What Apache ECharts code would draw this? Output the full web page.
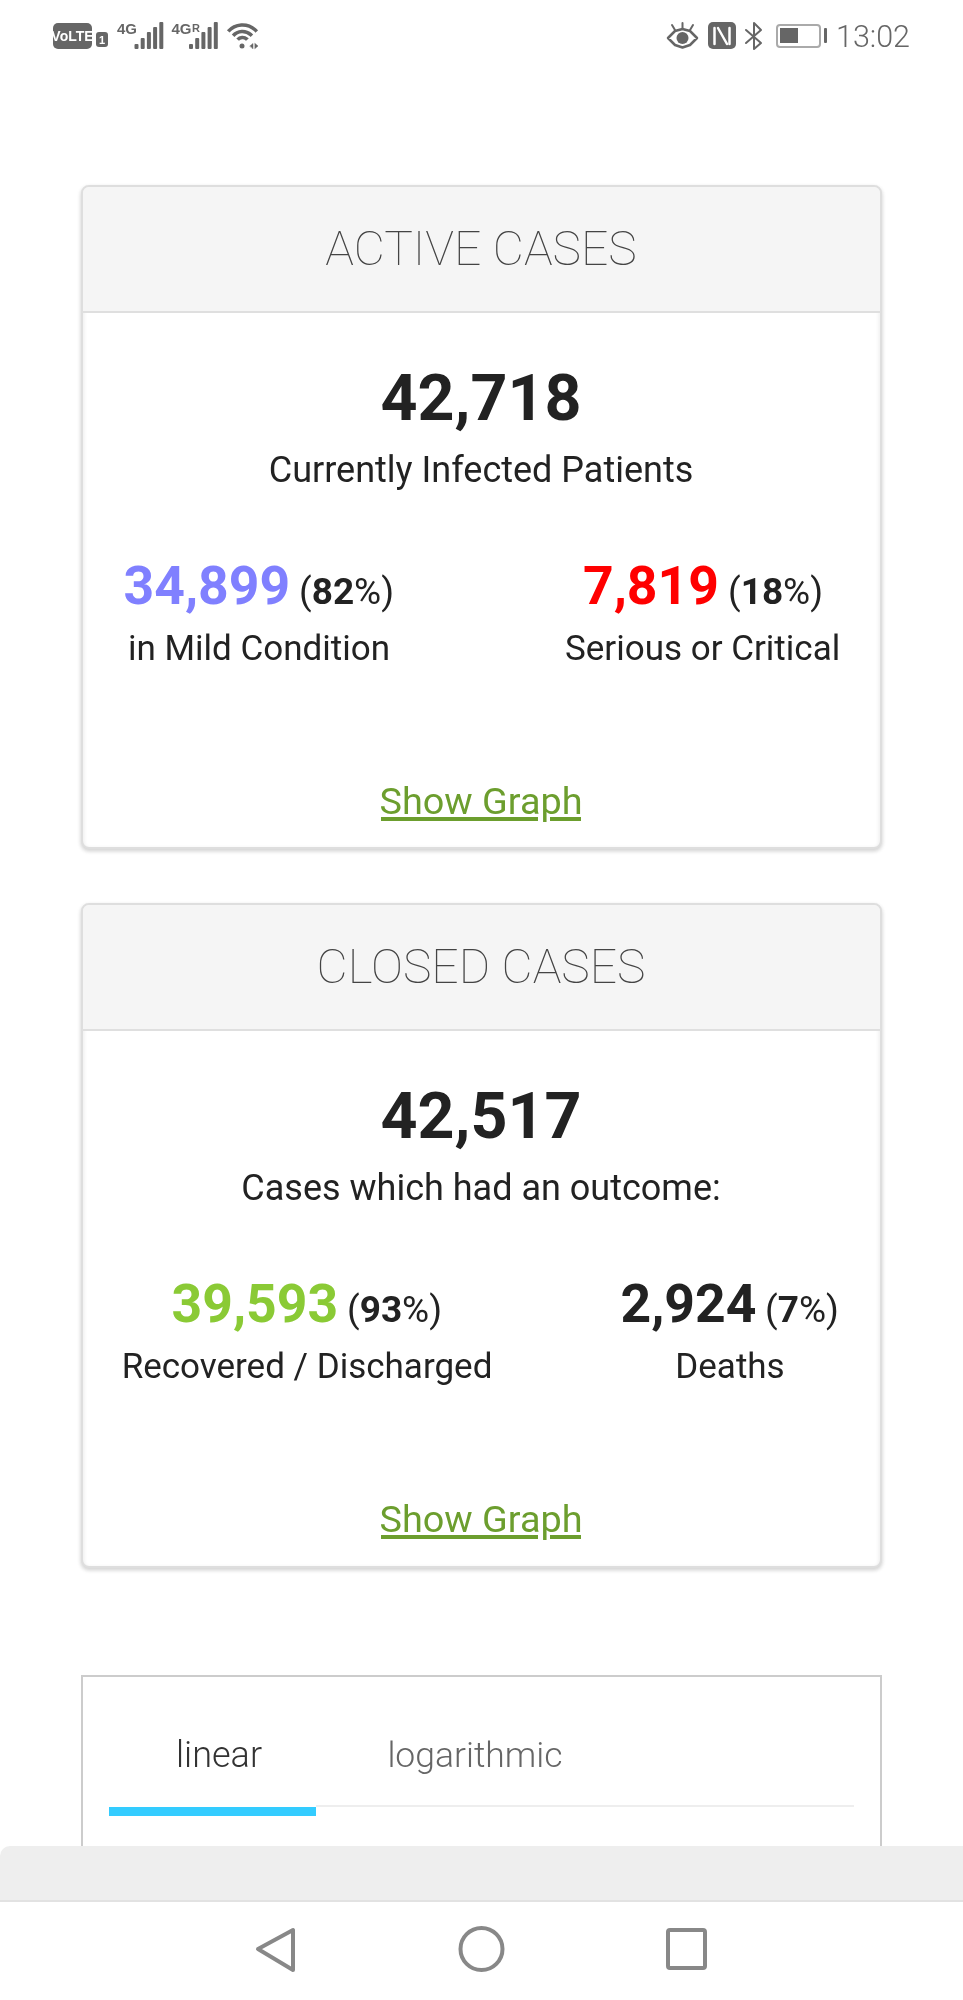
<!DOCTYPE html>
<html><head><meta charset="utf-8">
<style>html,body{margin:0;padding:0;background:#fff}#c{width:963px;height:2000px}</style>
<script src="https://cdn.jsdelivr.net/npm/echarts@6/dist/echarts.min.js"></script>
</head><body><div id="c"></div>
<script>
const cardTitles = ['ACTIVE CASES', 'CLOSED CASES'];
const cardTotals = ['42,718', '42,517'];
const cardSubtitles = ['Currently Infected Patients', 'Cases which had an outcome:'];
const leftValues = ['34,899', '39,593'];
const leftPercents = ['82', '93'];
const leftLabels = ['in Mild Condition', 'Recovered / Discharged'];
const rightValues = ['7,819', '2,924'];
const rightPercents = ['18', '7'];
const rightLabels = ['Serious or Critical', 'Deaths'];
const linkLabel = 'Show Graph';
const tabLabels = ['linear', 'logarithmic'];
const clockLabel = '13:02';

const F = 'Roboto, sans-serif';
const NARROW = '"Liberation Sans Narrow", sans-serif';
const els = [];
const mctx = document.createElement('canvas').getContext('2d');
function T(text, x, base, size, color, weight, align, fam) {
  els.push({type:'text', z:20, silent:true, style:{text, x, y: base - 0.25*size, fill:color,
    font:`${weight||400} ${size}px ${fam||F}`, align:align||'center', verticalAlign:'middle'}});
}
function W(text,size,weight){ mctx.font=`${weight} ${size}px ${F}`; return mctx.measureText(text).width; }
function pct(v,x,base,size){
  T('(',x,base,size,DARK,400,'left'); x+=W('(',size,400);
  T(v,x,base,size,DARK,700,'left'); x+=W(v,size,700);
  T('%)',x,base,size,DARK,400,'left');
}
function R(x,y,w,h,fill,r,stroke,lw,z) {
  els.push({type:'rect', z:z||5, silent:true, shape:{x,y,width:w,height:h,r:r||0},
    style:{fill:fill||'none', stroke:stroke||'none', lineWidth:lw||0}});
}
function P(pts, stroke, lw, closed, fill) {
  els.push({type: closed?'polygon':'polyline', z:20, silent:true, shape:{points:pts},
    style:{stroke:stroke||'none', lineWidth:lw||0, fill:fill||'none', lineJoin:'round', lineCap:'round'}});
}
const DARK='#222222';
const cards=[
 {top:186,head:312,bottom:848,lc:'#8080ff',lxs:[123.5,299],lcx:259,rc:'#ff0000',rxs:[583,728],rcx:702.6},
 {top:904,head:1030,bottom:1567,lc:'#8aca35',lxs:[171.5,347],lcx:307,rc:DARK,rxs:[620.5,765],rcx:730}
];
cards.forEach((c,i)=>{
  const L=82,WD=799;
  els.push({type:'rect',z:2,silent:true,shape:{x:L,y:c.top,width:WD,height:c.bottom-c.top,r:7},
    style:{fill:'#fff',stroke:'#dedede',lineWidth:2,shadowBlur:4,shadowOffsetY:2,shadowColor:'rgba(0,0,0,0.16)'}});
  els.push({type:'rect',z:3,silent:true,shape:{x:L+1,y:c.top+1,width:WD-2,height:c.head-c.top-1,r:[6,6,0,0]},style:{fill:'#f5f5f5'}});
  R(L,c.head-1,WD,2,'#dfdfdf',0,null,0,4);
  T(cardTitles[i],481,c.head-47,48,'#444',100);
  T(cardTotals[i],481,c.head+108,64.5,DARK,700);
  T(cardSubtitles[i],481,c.head+169.5,36,DARK,400);
  const vb=c.head+292, lb=c.head+348;
  T(leftValues[i],c.lxs[0],vb,53.5,c.lc,700,'left');
  pct(leftPercents[i],c.lxs[1],vb,37);
  T(leftLabels[i],c.lcx,lb,35,DARK,400);
  T(rightValues[i],c.rxs[0],vb,53.5,c.rc,700,'left');
  pct(rightPercents[i],c.rxs[1],vb,37);
  T(rightLabels[i],c.rcx,lb,35,DARK,400);
  const gb=c.head+502;
  T(linkLabel,481,gb,37.8,'#6c9e2e',400);
  R(381,gb+3,157,4,'#6c9e2e'); R(550,gb+3,31,4,'#6c9e2e');
});

// third box + tabs
R(82,1676,799,200,'#fff',0,'#cccccc',2,2);
T(tabLabels[0],219,1767,36,'#333',300);
T(tabLabels[1],475,1767,35.5,'#666',300);
R(316,1805,538,2,'#eeeeee');
R(109,1807,207,9,'#33ccff');
// bottom bar
els.push({type:'rect',z:6,silent:true,shape:{x:0,y:1846,width:963,height:54,r:[10,0,0,0]},style:{fill:'#eeeeee'}});
R(0,1900,963,100,'#ffffff',0,null,0,6);
R(0,1900,963,2,'#e2e2e2',0,null,0,7);
// nav
P([[293,1930],[293,1970],[258,1949]],'#888',4,true);
els.push({type:'circle',z:20,silent:true,shape:{cx:481.5,cy:1949,r:21},style:{fill:'none',stroke:'#888',lineWidth:4}});
R(668,1930,37,38,null,2,'#888',4,20);

// status bar
const G='#666666';
T(clockLabel,873,47,30.5,G,300);
R(53,23,39,26,G,5,null,0,20);
T('VoLTE',72.5,41,14,'#fff',700,'center',NARROW);
R(96,32,12,15,G,3,null,0,20);
T('1',102,44,11,'#fff',700,'center',NARROW);
T('4G',127,34,15,G,700,'center',NARROW);
T('4G',181.5,34,15,G,700,'center',NARROW);
T('R',196,32,11,G,700,'center',NARROW);
[134.5,189].forEach(x0=>{
  [[0,5],[6.2,11],[12.4,17],[18.6,22],[24.8,27]].forEach(b=>R(x0+b[0],49-b[1],4,b[1],G,1,null,0,20));
});
// wifi
[[19,-2.42,-0.72],[12.5,-2.42,-0.72],[6.5,-2.42,-0.72]].forEach(a=>{
  els.push({type:'arc',z:20,silent:true,shape:{cx:242.5,cy:44,r:a[0],startAngle:a[1],endAngle:a[2]},style:{stroke:G,lineWidth:3.5,fill:'none'}});
});
els.push({type:'circle',z:20,silent:true,shape:{cx:242,cy:46,r:2.5},style:{fill:G}});
P([[250,46],[253,43.5],[253,48.5]],G,0.5,true,G);
P([[255,43.5],[258,46],[255,48.5]],G,0.5,true,G);
// eye
P([[668,38],[675,31],[682.5,29],[690,31],[697,38],[690,45],[682.5,47.5],[675,45]],G,2.5,true);
els.push({type:'circle',z:20,silent:true,shape:{cx:682.5,cy:38,r:6},style:{fill:G}});
P([[682.5,23],[682.5,28]],G,2);P([[672,25],[675,30]],G,2);P([[693,25],[690,30]],G,2);
// NFC
R(708,22,28,27,G,5,null,0,20);
P([[714.5,44],[714.5,28]],'#fff',2.5);
P([[729.5,44],[729.5,28]],'#fff',2.5);
P([[718,28],[727,44]],'#fff',2.5);
// bluetooth
P([[746,30],[761,43],[754,49],[754,23],[761,30],[746,43]],G,2);
// battery
R(777,25,43,22,null,3,'#aaaaaa',2,20);
R(780,28,18,15,G,0,null,0,20);
R(824,28,3,15,G,1,null,0,20);

const chart=echarts.init(document.getElementById('c'),null,{renderer:'canvas'});
chart.setOption({animation:false,backgroundColor:'#fff',graphic:{elements:els}});
</script></body></html>
